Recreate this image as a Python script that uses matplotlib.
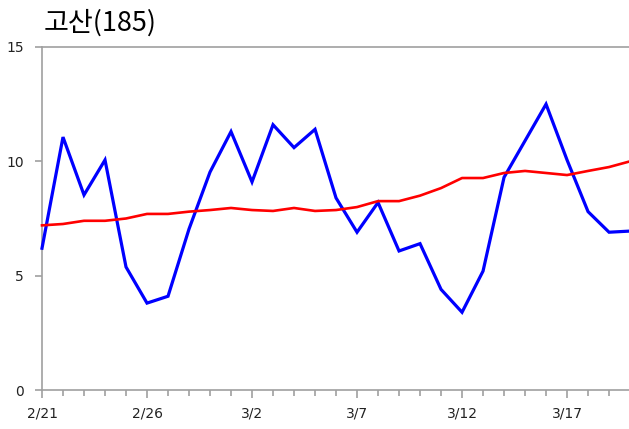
import matplotlib
matplotlib.use("Agg")
import matplotlib.pyplot as plt
from matplotlib.ticker import MultipleLocator, FixedLocator

title = "고산(185)"
dates = ["2/21", "2/22", "2/23", "2/24", "2/25", "2/26", "2/27", "2/28", "2/29",
         "3/1", "3/2", "3/3", "3/4", "3/5", "3/6", "3/7", "3/8", "3/9", "3/10",
         "3/11", "3/12", "3/13", "3/14", "3/15", "3/16", "3/17", "3/18", "3/19", "3/20"]
blue_values = [6.2, 11.06, 8.53, 10.06, 5.38, 3.8, 4.1, 7.04, 9.53, 11.3, 9.1, 11.6,
               10.6, 11.4, 8.4, 6.9, 8.2, 6.08, 6.4, 4.4, 3.4, 5.2, 9.3, 10.9, 12.5,
               10.06, 7.8, 6.9, 6.95]
red_values = [7.2, 7.26, 7.4, 7.4, 7.5, 7.7, 7.7, 7.8, 7.87, 7.96, 7.87, 7.83, 7.96,
              7.83, 7.87, 8.0, 8.26, 8.26, 8.5, 8.83, 9.27, 9.27, 9.49, 9.58, 9.49,
              9.4, 9.58, 9.75, 10.0]
tick_labels = ["2/21", "2/26", "3/2", "3/7", "3/12", "3/17"]
y_ticks = [0, 5, 10, 15]

fig = plt.figure(figsize=(6.29, 4.29), dpi=100)
ax = fig.add_axes([42/629, 39/429, (629-42)/629, (390-47)/429])

x = list(range(len(dates)))
ax.plot(x, blue_values, color="#0000ff", lw=2.3, solid_joinstyle="miter", clip_on=False, zorder=3)
ax.plot(x, red_values, color="#ff0000", lw=1.9, clip_on=False, zorder=4)

ax.set_xlim(0, 27.95)
ax.set_ylim(0, 15)

major_pos = [dates.index(t) for t in tick_labels]
ax.xaxis.set_major_locator(FixedLocator(major_pos))
ax.set_xticklabels(tick_labels)
ax.xaxis.set_minor_locator(MultipleLocator(1))
ax.set_yticks(y_ticks)
ax.set_yticklabels([str(v) for v in y_ticks])

grey = "#a0a0a0"
for s in ["left", "bottom", "top"]:
    ax.spines[s].set_color(grey)
    ax.spines[s].set_linewidth(1.2)
ax.spines["right"].set_visible(False)

ax.tick_params(axis="x", which="major", direction="out", length=6, width=1.2,
               color=grey, labelsize=10, labelcolor="#222222", pad=6)
ax.tick_params(axis="x", which="minor", direction="out", length=4, width=1.2, color=grey)
ax.tick_params(axis="y", which="major", direction="out", length=5, width=1.2,
               color=grey, labelsize=10, labelcolor="#222222", pad=8)

fig.text(44/629, 1 - 23/429, title, fontsize=19.5, fontweight="medium",
         family=["Noto Sans CJK KR", "DejaVu Sans"],
         va="center", ha="left", color="#000000")

fig.savefig("out.png", dpi=100)
